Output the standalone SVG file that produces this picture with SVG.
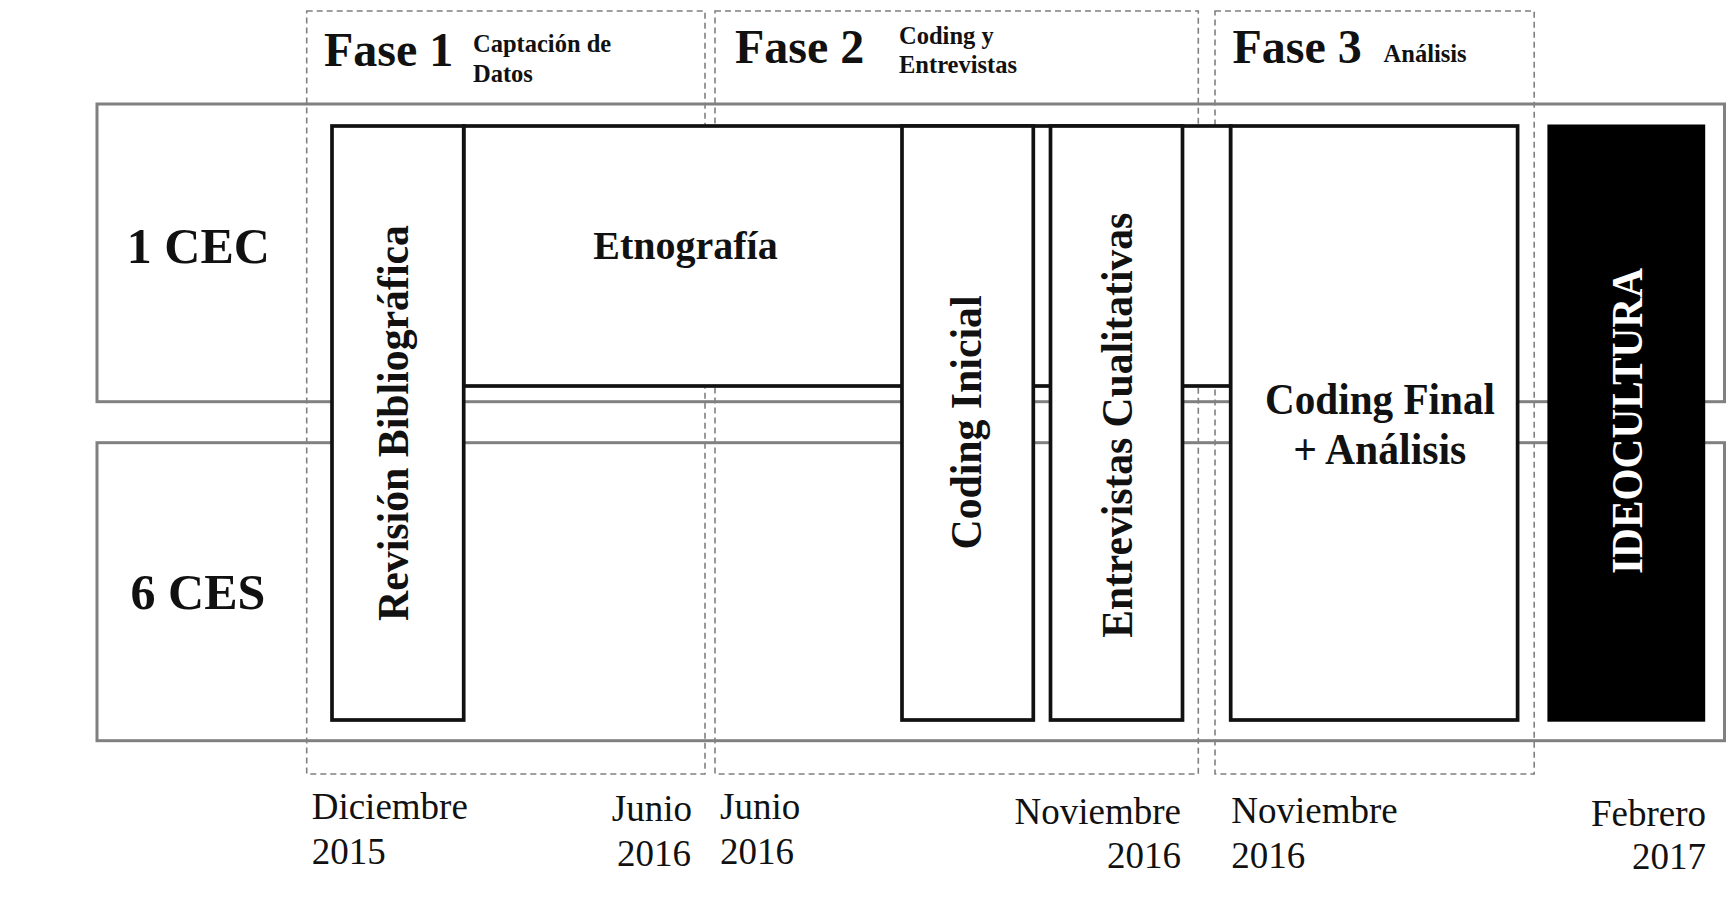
<svg xmlns="http://www.w3.org/2000/svg" width="1730" height="903" viewBox="0 0 1730 903">
<style>
.lane{fill:none;stroke:#808080;stroke-width:3}
.phase{fill:none;stroke:#808080;stroke-width:1.6;stroke-dasharray:6 4}
.box{fill:#fff;stroke:#111;stroke-width:3.7}
.t{font-family:"Liberation Serif","Times New Roman",serif;fill:#111}
.b{font-weight:bold}
.big{font-size:48px;font-weight:bold}
.sm{font-size:24.5px;font-weight:bold}
.lbl{font-size:44px;font-weight:bold}
.row{font-size:50px;font-weight:bold}
.date{font-size:37px}
</style>
<rect width="1730" height="903" fill="#fff"/>
<g id="lanes">
<g id="lane-1cec"><rect class="lane" x="97" y="104" width="1627.5" height="297.7"/><text class="t row" x="198.4" y="263.3" text-anchor="middle">1 CEC</text></g>
<g id="lane-6ces"><rect class="lane" x="97" y="442.7" width="1627.5" height="298"/><text class="t row" x="198" y="609.3" text-anchor="middle">6 CES</text></g>
</g>
<g id="phases">
<g id="fase1"><rect class="phase" x="306.7" y="11" width="398.3" height="763"/>
<text class="t big" x="324" y="65.5">Fase 1</text>
<text class="t sm" x="473" y="52">Captación de</text><text class="t sm" x="473" y="81.5">Datos</text></g>
<g id="fase2"><rect class="phase" x="715" y="11" width="483.3" height="763"/>
<text class="t big" x="735" y="63">Fase 2</text>
<text class="t sm" x="899" y="43.5">Coding y</text><text class="t sm" x="899" y="72.5">Entrevistas</text></g>
<g id="fase3"><rect class="phase" x="1215" y="11" width="319.2" height="763"/>
<text class="t big" x="1232.4" y="62.5">Fase 3</text>
<text class="t sm" x="1383.6" y="61.7">Análisis</text></g>
</g>
<g id="connectors"></g>
<g id="etnografia"><rect class="box" x="463.7" y="126" width="767" height="260"/>
<text class="t b" font-size="40" x="685.5" y="259.3" text-anchor="middle">Etnografía</text></g>
<g id="revision"><rect class="box" x="332" y="126" width="131.7" height="594"/>
<text class="t lbl" transform="translate(408 423) rotate(-90)" text-anchor="middle" textLength="396" lengthAdjust="spacingAndGlyphs">Revisión Bibliográfica</text></g>
<g id="coding-inicial"><rect class="box" x="902" y="126" width="131.3" height="594"/>
<text class="t lbl" transform="translate(981 422.5) rotate(-90)" text-anchor="middle" textLength="254" lengthAdjust="spacingAndGlyphs">Coding Inicial</text></g>
<g id="entrevistas"><rect class="box" x="1050.5" y="126" width="132" height="594"/>
<text class="t lbl" transform="translate(1131.7 425.3) rotate(-90)" text-anchor="middle" textLength="425" lengthAdjust="spacingAndGlyphs">Entrevistas Cualitativas</text></g>
<g id="coding-final"><rect class="box" x="1230.7" y="126" width="286.9" height="594"/>
<text class="t lbl" x="1380" y="414" text-anchor="middle" textLength="230" lengthAdjust="spacingAndGlyphs">Coding Final</text>
<text class="t lbl" x="1379.7" y="464" text-anchor="middle" textLength="173" lengthAdjust="spacingAndGlyphs">+ Análisis</text></g>
<g id="ideocultura"><rect x="1547.4" y="124.5" width="157.8" height="597.2" fill="#000"/>
<text class="t lbl" style="fill:#fff" transform="translate(1642 421) rotate(-90)" text-anchor="middle" textLength="306" lengthAdjust="spacingAndGlyphs">IDEOCULTURA</text></g>
<g id="dates">
<text class="t date" x="311.7" y="819">Diciembre</text><text class="t date" x="311.7" y="864">2015</text>
<text class="t date" x="692" y="821" text-anchor="end">Junio</text><text class="t date" x="691" y="866" text-anchor="end">2016</text>
<text class="t date" x="720" y="819">Junio</text><text class="t date" x="720" y="864">2016</text>
<text class="t date" x="1181" y="824" text-anchor="end">Noviembre</text><text class="t date" x="1181" y="868" text-anchor="end">2016</text>
<text class="t date" x="1231.3" y="823">Noviembre</text><text class="t date" x="1231.3" y="868">2016</text>
<text class="t date" x="1706" y="826" text-anchor="end">Febrero</text><text class="t date" x="1706" y="869" text-anchor="end">2017</text>
</g>
</svg>
